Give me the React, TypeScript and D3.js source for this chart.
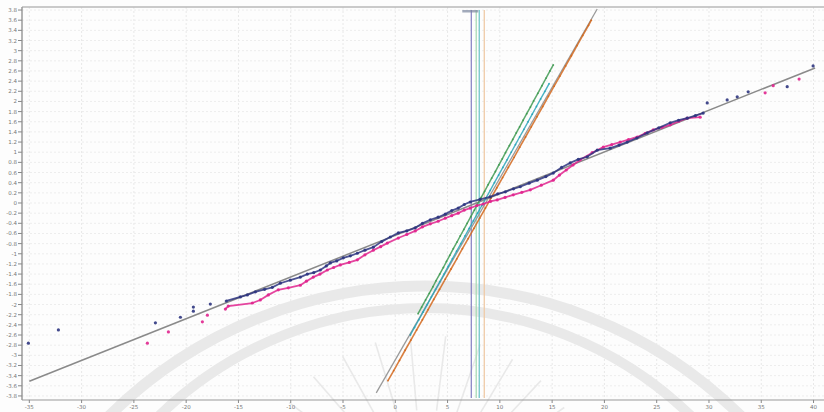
import React, { useEffect, useRef } from 'react';
import * as d3 from 'd3';

// tick values
const xTicks = [-35, -30, -25, -20, -15, -10, -5, 0, 5, 10, 15, 20, 25, 30, 35, 40];
const yTicks = [
  -3.8, -3.6, -3.4, -3.2, -3, -2.8, -2.6, -2.4, -2.2, -2, -1.8, -1.6, -1.4, -1.2, -1, -0.8, -0.6, -0.4, -0.2, 0,
  0.2, 0.4, 0.6, 0.8, 1, 1.2, 1.4, 1.6, 1.8, 2, 2.2, 2.4, 2.6, 2.8, 3, 3.2, 3.4, 3.6, 3.8,
];

// shallow group (wide spread)
const navyPts: [number, number][] = [
  [-35.09, -2.76], [-32.22, -2.5], [-22.94, -2.36], [-20.55, -2.25], [-19.31, -2.13], [-19.31, -2.05],
  [-17.69, -1.99], [-16.16, -1.93], [-14.82, -1.85], [-14.15, -1.81], [-13.38, -1.75], [-12.5, -1.7],
  [-11.76, -1.66], [-10.99, -1.58], [-10.04, -1.52], [-9.08, -1.46], [-8.41, -1.4], [-7.8, -1.37],
  [-7.17, -1.32], [-6.6, -1.24], [-6.21, -1.18], [-5.6, -1.14], [-4.97, -1.08], [-4.3, -1.04],
  [-3.63, -0.99], [-2.9, -0.93], [-2.1, -0.87], [-1.3, -0.76], [-0.48, -0.67], [0.29, -0.59],
  [1.1, -0.55], [1.91, -0.49], [2.6, -0.4], [3.35, -0.33], [4.1, -0.28], [4.78, -0.22], [5.4, -0.15],
  [6.02, -0.1], [6.6, -0.03], [7.17, 0.02], [8.1, 0.07], [9.08, 0.12], [9.8, 0.18], [10.52, 0.22],
  [11.3, 0.28], [11.95, 0.32], [12.8, 0.39], [13.58, 0.45], [14.4, 0.52], [15.11, 0.59], [15.9, 0.7],
  [16.73, 0.79], [17.5, 0.86], [18.36, 0.91], [19.31, 1.04], [20.55, 1.08], [21.4, 1.14], [22.18, 1.2],
  [23.1, 1.28], [24.09, 1.38], [25.2, 1.48], [26.29, 1.58], [27.1, 1.63], [27.92, 1.67], [28.7, 1.72],
  [29.45, 1.77], [29.83, 1.97], [31.74, 2.03], [32.7, 2.09], [33.75, 2.19], [37.48, 2.29], [39.96, 2.7],
];
const magentaPts: [number, number][] = [
  [-23.71, -2.76], [-21.7, -2.54], [-18.45, -2.34], [-17.97, -2.21], [-16.25, -2.09], [-15.97, -2.03],
  [-13.67, -1.97], [-12.91, -1.91], [-12.14, -1.81], [-11.19, -1.71], [-10.23, -1.67], [-9.08, -1.62],
  [-8.5, -1.54], [-7.84, -1.46], [-7.2, -1.4], [-6.5, -1.32], [-5.9, -1.27], [-5.26, -1.22], [-4.4, -1.17],
  [-3.63, -1.12], [-2.9, -1.02], [-2.1, -0.93], [-1.4, -0.86], [-0.76, -0.79], [0.29, -0.69], [1.1, -0.62],
  [1.91, -0.55], [2.6, -0.47], [3.35, -0.41], [4.1, -0.36], [4.78, -0.3], [5.4, -0.25], [6.02, -0.2],
  [6.6, -0.14], [7.17, -0.1], [7.8, -0.05], [8.41, -0.02], [9.1, 0.03], [9.75, 0.06], [10.5, 0.11],
  [11.28, 0.16], [12.1, 0.21], [12.91, 0.26], [13.96, 0.35], [15.11, 0.45], [15.7, 0.55], [16.35, 0.65],
  [17.0, 0.75], [17.69, 0.85], [18.83, 0.99], [19.89, 1.1], [20.7, 1.15], [21.51, 1.2], [22.3, 1.25],
  [23.14, 1.3], [23.9, 1.37], [24.67, 1.44], [25.5, 1.49], [26.29, 1.54], [27.1, 1.61], [27.92, 1.67],
  [29.16, 1.69], [35.37, 2.17], [36.14, 2.31], [38.62, 2.44],
];

// steep group (narrow spread)
const greenPts: [number, number][] = [
  [2.18, -2.18], [2.52, -2.05], [2.9, -1.91], [3.25, -1.78], [3.6, -1.65], [3.9, -1.53], [4.25, -1.4],
  [4.6, -1.27], [4.9, -1.15], [5.21, -1.03], [5.55, -0.9], [5.9, -0.77], [6.21, -0.65], [6.56, -0.52],
  [6.87, -0.4], [7.22, -0.27], [7.56, -0.14], [7.85, -0.03], [8.22, 0.11], [8.54, 0.23], [8.88, 0.36],
  [9.22, 0.49], [9.57, 0.62], [9.91, 0.75], [10.23, 0.87], [10.54, 0.99], [10.91, 1.13], [11.23, 1.25],
  [11.57, 1.38], [11.89, 1.5], [12.23, 1.63], [12.57, 1.76], [12.92, 1.89], [13.23, 2.01], [13.63, 2.16],
  [14.03, 2.31], [14.42, 2.46], [14.79, 2.6], [15.11, 2.72],
];
const tealPts: [number, number][] = [
  [1.44, -2.6], [1.84, -2.45], [2.25, -2.3], [2.65, -2.15], [3.05, -2.0], [3.45, -1.85], [3.85, -1.7],
  [4.26, -1.55], [4.66, -1.4], [5.06, -1.25], [5.46, -1.1], [5.86, -0.95], [6.27, -0.8], [6.67, -0.65],
  [7.07, -0.5], [7.47, -0.35], [7.87, -0.2], [8.28, -0.05], [8.68, 0.1], [9.08, 0.25], [9.48, 0.4],
  [9.88, 0.55], [10.29, 0.7], [10.69, 0.85], [11.09, 1.0], [11.49, 1.15], [11.89, 1.3], [12.3, 1.45],
  [12.7, 1.6], [13.1, 1.75], [13.5, 1.9], [13.9, 2.05], [14.31, 2.2], [14.71, 2.35],
];
const orangePts: [number, number][] = [
  [-0.7, -3.5], [-0.15, -3.3], [0.4, -3.1], [0.94, -2.9], [1.49, -2.7], [2.04, -2.5], [2.59, -2.3],
  [3.14, -2.1], [3.68, -1.9], [4.23, -1.7], [4.78, -1.5], [5.33, -1.3], [5.88, -1.1], [6.42, -0.9],
  [6.97, -0.7], [7.52, -0.5], [8.07, -0.3], [8.62, -0.1], [9.16, 0.1], [9.71, 0.3], [10.26, 0.5],
  [10.81, 0.7], [11.36, 0.9], [11.9, 1.1], [12.45, 1.3], [13.0, 1.5], [13.55, 1.7], [14.1, 1.9],
  [14.64, 2.1], [15.19, 2.3], [15.74, 2.5], [16.29, 2.7], [16.84, 2.9], [17.38, 3.1], [17.93, 3.3],
  [18.48, 3.5], [18.75, 3.6],
];

// fitted reference lines
const shallowFit: [number, number][] = [[-35.0, -3.51], [40.15, 2.66]];
const steepFit: [number, number][] = [[-1.82, -3.74], [19.31, 3.82]];

// vertical mean markers
const meanX = [7.27, 7.74, 8.03, 8.51];
const meanColors = ['#8c88c6', '#a9dbb6', '#72c6ca', '#efcaa6'];

const W = 824;
const H = 412;

const App = () => {
  const svgRef = useRef<SVGSVGElement | null>(null);

  useEffect(() => {
    const svg = d3.select(svgRef.current);
    svg.selectAll('*').remove();

    const left = 22, right = 824, top = 7, bottom = 400;
    const x = d3.scaleLinear().domain([-35.7, 41]).range([left, right]);
    const y = d3.scaleLinear().domain([-3.88, 3.86]).range([bottom, top]);

    svg.append('rect').attr('width', W).attr('height', H).attr('fill', '#fdfdfd');

    // faint grid
    const grid = svg.append('g');
    grid.selectAll('line.gy')
      .data(yTicks)
      .join('line')
      .attr('x1', left).attr('x2', right)
      .attr('y1', d => y(d)).attr('y2', d => y(d))
      .attr('stroke', '#ededed').attr('stroke-dasharray', '2,2');
    grid.selectAll('line.gx')
      .data(xTicks)
      .join('line')
      .attr('y1', top).attr('y2', bottom)
      .attr('x1', d => x(d)).attr('x2', d => x(d))
      .attr('stroke', '#e8e8e8').attr('stroke-dasharray', '2,2');

    // watermark (grey arcs + rays)
    const wm = svg.append('g').attr('fill', 'none').attr('stroke', '#e9e9e9');
    wm.append('circle').attr('cx', 425).attr('cy', 735).attr('r', 449).attr('stroke-width', 11);
    wm.append('circle').attr('cx', 425).attr('cy', 690).attr('r', 382).attr('stroke-width', 10);
    const rays = d3.range(205, 340, 12);
    wm.selectAll('line')
      .data(rays)
      .join('line')
      .attr('x1', a => 425 + 95 * Math.cos((a * Math.PI) / 180))
      .attr('y1', a => 505 + 95 * Math.sin((a * Math.PI) / 180))
      .attr('x2', a => 425 + 170 * Math.cos((a * Math.PI) / 180))
      .attr('y2', a => 505 + 170 * Math.sin((a * Math.PI) / 180))
      .attr('stroke-width', 1.6);

    // mean markers
    svg.selectAll('line.mean')
      .data(meanX)
      .join('line')
      .attr('x1', d => x(d)).attr('x2', d => x(d))
      .attr('y1', 10).attr('y2', bottom - 2)
      .attr('stroke', (d, i) => meanColors[i])
      .attr('stroke-width', 1.3);
    svg.append('rect').attr('x', x(7.27) - 9).attr('y', 10).attr('width', 16).attr('height', 2.5)
      .attr('fill', '#7a869e').attr('opacity', 0.7);

    // axes frame
    svg.append('line').attr('x1', left).attr('x2', right).attr('y1', top).attr('y2', top)
      .attr('stroke', '#b8b8b8').attr('stroke-width', 1.5);
    svg.append('line').attr('x1', left).attr('x2', left).attr('y1', top).attr('y2', bottom)
      .attr('stroke', '#9a9a9a').attr('stroke-width', 1.5);
    svg.append('line').attr('x1', left).attr('x2', right).attr('y1', bottom).attr('y2', bottom)
      .attr('stroke', '#9a9a9a').attr('stroke-width', 1.2);

    const yAxis = svg.append('g');
    yAxis.selectAll('line')
      .data(yTicks)
      .join('line')
      .attr('x1', left - 4).attr('x2', left)
      .attr('y1', d => y(d)).attr('y2', d => y(d))
      .attr('stroke', '#888');
    yAxis.selectAll('text')
      .data(yTicks)
      .join('text')
      .attr('x', left - 5)
      .attr('y', d => y(d) + 2)
      .attr('text-anchor', 'end')
      .attr('font-size', 5.5)
      .attr('font-family', 'DejaVu Sans, sans-serif')
      .attr('fill', '#777')
      .text(d => String(d));

    const xAxis = svg.append('g');
    xAxis.selectAll('line')
      .data(xTicks)
      .join('line')
      .attr('x1', d => x(d)).attr('x2', d => x(d))
      .attr('y1', bottom).attr('y2', bottom + 3)
      .attr('stroke', '#888');
    xAxis.selectAll('text')
      .data(xTicks)
      .join('text')
      .attr('x', d => x(d))
      .attr('y', bottom + 9)
      .attr('text-anchor', 'middle')
      .attr('font-size', 5.5)
      .attr('font-family', 'DejaVu Sans, sans-serif')
      .attr('fill', '#777')
      .text(d => String(d));

    const line = d3.line<[number, number]>().x(d => x(d[0])).y(d => y(d[1]));

    // fit lines
    svg.append('path').attr('d', line(shallowFit)).attr('stroke', '#8a8a8a').attr('stroke-width', 1.5).attr('fill', 'none');
    svg.append('path').attr('d', line(steepFit)).attr('stroke', '#9a9a9a').attr('stroke-width', 1.3).attr('fill', 'none');

    const drawSeries = (pts: [number, number][], color: string, lo: number, hi: number, r: number, w: number) => {
      const dense = pts.filter(p => p[0] >= lo && p[0] <= hi);
      svg.append('path').attr('d', line(dense)).attr('stroke', color).attr('stroke-width', w)
        .attr('fill', 'none').attr('opacity', 0.85);
      svg.append('g').selectAll('circle')
        .data(pts)
        .join('circle')
        .attr('cx', d => x(d[0]))
        .attr('cy', d => y(d[1]))
        .attr('r', r)
        .attr('fill', color)
        .attr('opacity', 0.9);
    };

    drawSeries(greenPts, '#3f9a52', -99, 99, 0.9, 1.5);
    drawSeries(tealPts, '#2aa5b8', -99, 99, 0.9, 1.4);
    drawSeries(orangePts, '#d2691e', -99, 99, 0.9, 1.6);
    drawSeries(magentaPts, '#e0258e', -16.5, 29.5, 1.6, 1.8);
    drawSeries(navyPts, '#2e3580', -16.5, 29.5, 1.6, 1.8);
  }, []);

  return (
    <div style={{ position: 'absolute', left: 0, top: 0 }}>
      <svg ref={svgRef} width={W} height={H} style={{ display: 'block' }}></svg>
    </div>
  );
};

export default App;
